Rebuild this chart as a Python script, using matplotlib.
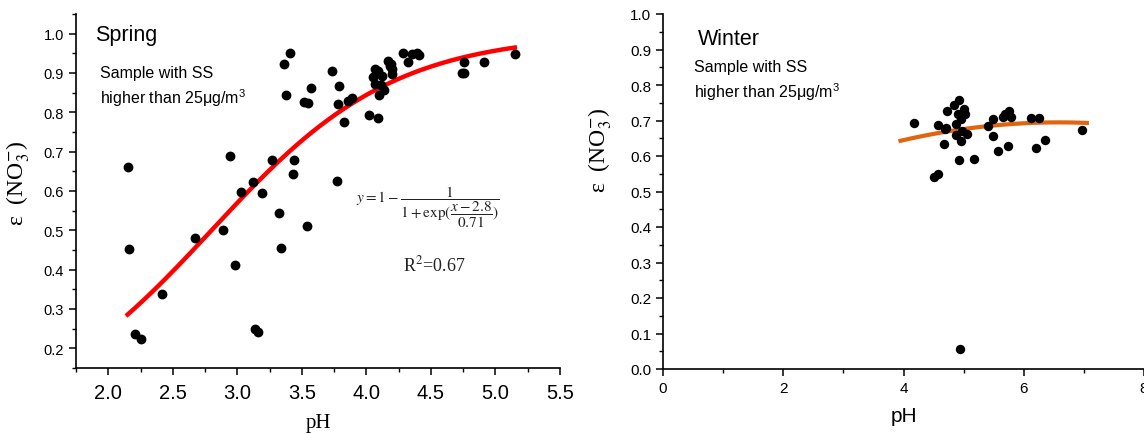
import numpy as np
import matplotlib
matplotlib.use("Agg")
import matplotlib.pyplot as plt
from matplotlib.ticker import MultipleLocator, FormatStrFormatter

# Spring samples (SS > 25 ug/m3)
spring_ph = [2.15, 2.16, 2.21, 2.25, 2.42, 2.67, 2.89, 2.94, 2.98, 3.03,
             3.12, 3.14, 3.16, 3.19, 3.27, 3.32, 3.34, 3.36, 3.41, 3.38,
             3.43, 3.44, 3.52, 3.55, 3.57, 3.54, 3.73, 3.77, 3.78, 3.79,
             3.83, 3.86, 3.89, 4.02, 4.09, 4.05, 4.07, 4.07, 4.10, 4.12,
             4.14, 4.17, 4.19, 4.20, 4.20, 4.28, 4.32, 4.35, 4.39, 4.41,
             4.74, 4.76, 4.76, 4.91, 5.15, 4.09, 4.11, 4.18]
spring_eps = [0.660, 0.452, 0.237, 0.225, 0.338, 0.480, 0.500, 0.688, 0.411, 0.597,
              0.622, 0.250, 0.242, 0.595, 0.679, 0.544, 0.456, 0.923, 0.952, 0.844,
              0.643, 0.678, 0.826, 0.823, 0.863, 0.511, 0.906, 0.625, 0.820, 0.868,
              0.775, 0.830, 0.837, 0.794, 0.786, 0.891, 0.911, 0.873, 0.845, 0.892,
              0.858, 0.931, 0.924, 0.911, 0.898, 0.952, 0.928, 0.949, 0.952, 0.945,
              0.900, 0.901, 0.928, 0.928, 0.949, 0.905, 0.870, 0.918]

# Logistic fit parameters for spring: y = 1 - 1/(1+exp((x-x0)/dx))
spring_x0 = 2.8
spring_dx = 0.71
spring_fit_range = [2.15, 5.15]

# Winter samples (SS > 25 ug/m3)
winter_ph = [4.18, 4.50, 4.57, 4.57, 4.67, 4.69, 4.73, 4.84, 4.93, 4.87,
             4.88, 4.91, 4.93, 4.96, 4.97, 5.00, 5.03, 5.06, 4.94, 5.18,
             5.40, 5.49, 5.49, 5.58, 5.66, 5.69, 5.73, 5.76, 5.79, 6.12,
             6.26, 6.20, 6.36, 6.97, 4.70, 4.95]
winter_eps = [0.692, 0.542, 0.550, 0.687, 0.634, 0.676, 0.726, 0.745, 0.757, 0.691,
              0.658, 0.717, 0.590, 0.642, 0.670, 0.731, 0.717, 0.663, 0.057, 0.592,
              0.684, 0.703, 0.656, 0.615, 0.709, 0.719, 0.627, 0.728, 0.709, 0.706,
              0.706, 0.623, 0.646, 0.673, 0.680, 0.705]

# Winter trend line values
winter_fit_ph = [3.95, 4.5, 5.0, 5.5, 6.0, 6.5, 7.05]
winter_fit_eps = [0.643, 0.662, 0.676, 0.686, 0.692, 0.695, 0.693]

plt.rcParams["font.family"] = ["Liberation Sans", "DejaVu Sans"]
plt.rcParams["mathtext.fontset"] = "custom"
plt.rcParams["mathtext.rm"] = "Liberation Sans"
plt.rcParams["mathtext.it"] = "Liberation Sans:italic"

fig = plt.figure(figsize=(11.44, 4.35), dpi=100)
W, H = 1144, 435

def px_axes(x0, x1, ytop, ybot):
    return fig.add_axes([x0 / W, (H - ybot) / H, (x1 - x0) / W, (ybot - ytop) / H])

def style_axes(ax, lw=1.2):
    for side in ("top", "right"):
        ax.spines[side].set_visible(False)
    for side in ("left", "bottom"):
        ax.spines[side].set_linewidth(lw)
    ax.tick_params(which="major", direction="out", length=5, width=1.1)
    ax.tick_params(which="minor", direction="out", length=3, width=1.0)

serif = ["Liberation Serif", "DejaVu Serif"]

# ---- Spring ----
ax1 = px_axes(76, 560, 15, 369)
style_axes(ax1)
ax1.set_xlim(1.75, 5.5)
ax1.set_ylim(0.15, 1.05)
ax1.xaxis.set_major_locator(MultipleLocator(0.5))
ax1.xaxis.set_minor_locator(MultipleLocator(0.25))
ax1.yaxis.set_major_locator(MultipleLocator(0.1))
ax1.yaxis.set_minor_locator(MultipleLocator(0.05))
ax1.set_yticks(np.arange(0.2, 1.01, 0.1))
ax1.xaxis.set_major_formatter(FormatStrFormatter("%.1f"))
ax1.yaxis.set_major_formatter(FormatStrFormatter("%.1f"))
ax1.tick_params(axis="x", which="major", labelsize=14.5, pad=6)
ax1.tick_params(axis="y", which="major", labelsize=10.5)

ax1.scatter(spring_ph, spring_eps, s=50, color="black", zorder=3, linewidths=0)
xf = np.linspace(spring_fit_range[0], spring_fit_range[1], 200)
ax1.plot(xf, 1 - 1 / (1 + np.exp((xf - spring_x0) / spring_dx)),
         color="#ff0000", lw=3.2, zorder=2)

ax1.set_xlabel("pH", family=serif, fontsize=15)
ax1.xaxis.set_label_coords(0.5, -0.128)
ax1.set_ylabel(r"ε  (NO$_3^{-}$)", family=serif, fontsize=17, math_fontfamily="stix")
ax1.yaxis.set_label_coords(-0.091, 0.525)

ax1.text(0.039, 0.943, "Spring", transform=ax1.transAxes, fontsize=15.5,
         va="center", ha="left")
ax1.text(0.05, 0.836, "Sample with SS", transform=ax1.transAxes, fontsize=11.5,
         va="center", ha="left")
ax1.text(0.05, 0.766, r"higher than 25μg/m$^3$", transform=ax1.transAxes,
         fontsize=11.5, va="center", ha="left")
ax1.text((428 - 76) / 484, (369 - 207) / 354,
         r"$y=1-\dfrac{1}{1+\mathrm{exp}(\dfrac{x-2.8}{0.71})}$",
         transform=ax1.transAxes, fontsize=11, va="center", ha="center",
         math_fontfamily="stix", color="#222222")
ax1.text((434 - 76) / 484, (369 - 265) / 354, r"R$^2$=0.67",
         transform=ax1.transAxes, fontsize=13, va="center", ha="center",
         family=serif, math_fontfamily="stix", color="#222222")

# ---- Winter ----
ax2 = px_axes(663, 1144, 15, 370)
style_axes(ax2)
ax2.set_xlim(0, 8)
ax2.set_ylim(0, 1.0)
ax2.xaxis.set_major_locator(MultipleLocator(2))
ax2.xaxis.set_minor_locator(MultipleLocator(1))
ax2.yaxis.set_major_locator(MultipleLocator(0.1))
ax2.yaxis.set_minor_locator(MultipleLocator(0.05))
ax2.yaxis.set_major_formatter(FormatStrFormatter("%.1f"))
ax2.tick_params(axis="both", which="major", labelsize=11)

ax2.scatter(winter_ph, winter_eps, s=46, color="black", zorder=3, linewidths=0)
coef = np.polyfit(winter_fit_ph, winter_fit_eps, 2)
xw = np.linspace(winter_fit_ph[0], winter_fit_ph[-1], 200)
ax2.plot(xw, np.polyval(coef, xw), color="#e0650f", lw=3.0, zorder=2)

ax2.set_xlabel("pH", fontsize=15)
ax2.xaxis.set_label_coords(0.5, -0.105)
ax2.set_ylabel(r"ε  (NO$_3^{-}$)", family=serif, fontsize=17, math_fontfamily="stix")
ax2.yaxis.set_label_coords(-0.102, 0.62)

ax2.text(0.073, 0.93, "Winter", transform=ax2.transAxes, fontsize=15.5,
         va="center", ha="left")
ax2.text(0.064, 0.853, "Sample with SS", transform=ax2.transAxes, fontsize=11.5,
         va="center", ha="left")
ax2.text(0.064, 0.783, r"higher than 25μg/m$^3$", transform=ax2.transAxes,
         fontsize=11.5, va="center", ha="left")

fig.savefig("out.png", dpi=100)
